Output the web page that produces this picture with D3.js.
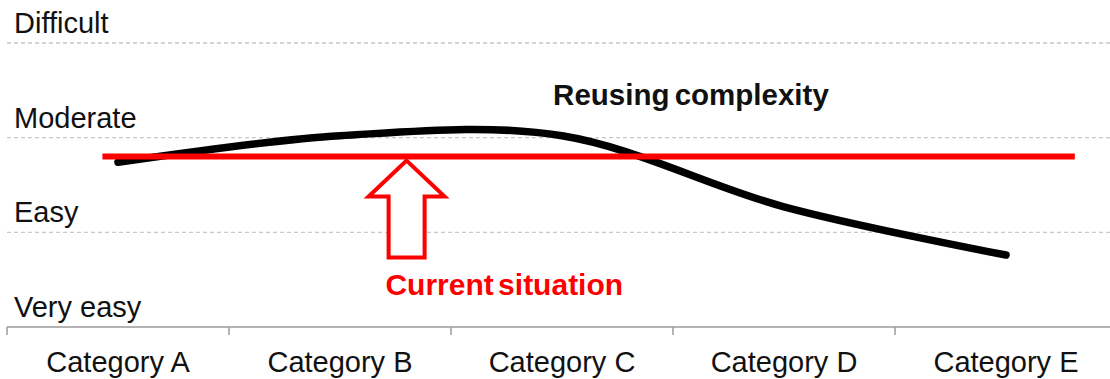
<!DOCTYPE html>
<html>
<head>
<meta charset="utf-8">
<script src="https://cdn.jsdelivr.net/npm/d3@7"></script>
<style>
  html, body { margin: 0; padding: 0; background: #fff; }
  svg { display: block; }
  text { font-family: "Liberation Sans", Arial, sans-serif; }
</style>
</head>
<body>
<svg id="chart" width="1110" height="379"></svg>
<script>
// Categories along the x axis
const categories = ["Category A", "Category B", "Category C", "Category D", "Category E"];
// Complexity of reuse per category (0 = very easy, 3 = difficult)
const complexity = [1.74, 2.02, 2.02, 1.27, 0.76];
// Qualitative levels on the y axis
const levelValues = [0, 1, 2, 3];
const levelLabels = ["Very easy", "Easy", "Moderate", "Difficult"];
// Current situation reference level and its horizontal extent (in category index units)
const currentLevel = 1.8;
const currentSpan = [-0.07, 4.31];
const arrowAt = 1.3;

const W = 1110, H = 379;
const svg = d3.select("#chart");

const x = d3.scaleBand().domain(categories).range([7, 1117]).padding(0);
const xi = d3.scaleLinear()
  .domain([0, categories.length - 1])
  .range([x(categories[0]) + x.bandwidth() / 2, x(categories[categories.length - 1]) + x.bandwidth() / 2]);
const y = d3.scaleLinear().domain([0, 3]).range([327, 43]);

// Dashed level gridlines
svg.append("g")
  .selectAll("line")
  .data(levelValues.filter(v => v > 0))
  .join("line")
  .attr("x1", 7).attr("x2", W)
  .attr("y1", d => y(d)).attr("y2", d => y(d))
  .attr("stroke", "#c8c8c8")
  .attr("stroke-width", 1.3)
  .attr("stroke-dasharray", "4,3");

// Level labels sitting just above each line
svg.append("g")
  .selectAll("text")
  .data(levelValues)
  .join("text")
  .attr("x", 14)
  .attr("y", d => y(d) - 10)
  .attr("font-size", 29)
  .attr("fill", "#111")
  .text((d, i) => levelLabels[i]);

// Category axis: baseline, boundary ticks, centred labels
const axis = svg.append("g");
axis.append("line")
  .attr("x1", 7).attr("x2", W)
  .attr("y1", y(0)).attr("y2", y(0))
  .attr("stroke", "#9a9a9a").attr("stroke-width", 1.5);
axis.selectAll("line.tick")
  .data(categories)
  .join("line")
  .attr("class", "tick")
  .attr("x1", d => x(d)).attr("x2", d => x(d))
  .attr("y1", y(0)).attr("y2", y(0) + 8)
  .attr("stroke", "#9a9a9a").attr("stroke-width", 1.5);
axis.selectAll("text")
  .data(categories)
  .join("text")
  .attr("x", d => x(d) + x.bandwidth() / 2)
  .attr("y", 372)
  .attr("text-anchor", "middle")
  .attr("font-size", 29)
  .attr("fill", "#111")
  .text(d => d);

// Smoothed complexity line
const line = d3.line()
  .x((d, i) => xi(i))
  .y(d => y(d))
  .curve(d3.curveCardinal.tension(0));
svg.append("path")
  .datum(complexity)
  .attr("d", line)
  .attr("fill", "none")
  .attr("stroke", "#000")
  .attr("stroke-width", 7.5)
  .attr("stroke-linecap", "round");

// Current situation reference line
svg.append("line")
  .attr("x1", xi(currentSpan[0])).attr("x2", xi(currentSpan[1]))
  .attr("y1", y(currentLevel)).attr("y2", y(currentLevel))
  .attr("stroke", "#ff0000")
  .attr("stroke-width", 6);

// Hollow arrow pointing at the reference line
const ax = xi(arrowAt), ay = y(currentLevel) + 4;
const arrow = [
  [ax, ay], [ax + 38, ay + 36], [ax + 18, ay + 36], [ax + 18, ay + 97],
  [ax - 18, ay + 97], [ax - 18, ay + 36], [ax - 38, ay + 36]
];
svg.append("path")
  .attr("d", "M" + arrow.map(p => p.join(",")).join("L") + "Z")
  .attr("fill", "#fff")
  .attr("stroke", "#ff0000")
  .attr("stroke-width", 4)
  .attr("stroke-linejoin", "miter");

svg.append("text")
  .attr("x", xi(1.74))
  .attr("y", 295)
  .attr("text-anchor", "middle")
  .attr("font-size", 30)
  .attr("font-weight", "bold")
  .attr("word-spacing", -4)
  .attr("fill", "#ff0000")
  .text("Current situation");

// Series title
svg.append("text")
  .attr("x", xi(1.96))
  .attr("y", 105)
  .attr("font-size", 29.5)
  .attr("font-weight", "bold")
  .attr("word-spacing", -3)
  .attr("fill", "#111")
  .text("Reusing complexity");
</script>
</body>
</html>
